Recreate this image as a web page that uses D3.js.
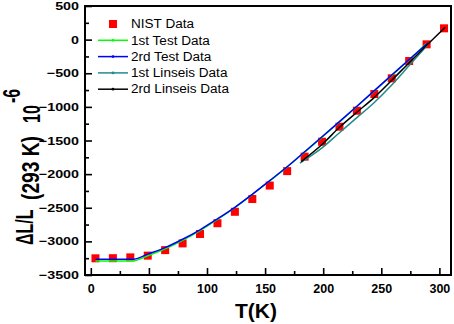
<!DOCTYPE html>
<html>
<head>
<meta charset="utf-8">
<script src="https://cdn.jsdelivr.net/npm/d3@7"></script>
<style>
  body { margin: 0; background: #fff; }
  svg { display: block; }
  text { font-family: Arial, "Liberation Sans", sans-serif; font-weight: bold; }
</style>
</head>
<body>
<svg id="chart"></svg>
<script>
let w = 454;
let h = 324;

// NIST reference points
let nistT = [4, 19, 34, 49, 64, 79, 94, 109, 124, 139, 154, 169, 184, 199, 214, 229, 244, 259, 274, 289, 304];
let nistV = [-3252, -3250, -3238, -3212, -3130, -3030, -2890, -2730, -2560, -2370, -2170, -1955, -1740, -1518, -1295, -1057, -809, -575, -318, -70, 168];

// test runs
let test1T = [4, 20, 37, 49, 64, 79, 94, 109, 124, 139, 154, 169, 184, 199, 214, 229, 244, 259, 274, 289];
let test1V = [-3290, -3290, -3287, -3214, -3110, -2984, -2840, -2673, -2498, -2303, -2100, -1893, -1672, -1449, -1224, -994, -763, -531, -299, -56];
let test2T = [4, 20, 37, 49, 64, 79, 94, 109, 124, 139, 154, 169, 184, 199, 214, 229, 244, 259, 274, 290];
let test2V = [-3267, -3267, -3264, -3190, -3093, -2969, -2828, -2665, -2493, -2300, -2097, -1890, -1668, -1445, -1220, -990, -759, -527, -295, -50];

// Linseis runs
let lin1T = [180, 199, 214, 229, 244, 259, 274, 290];
let lin1V = [-1835, -1610, -1385, -1160, -935, -675, -385, -75];
let lin2T = [181, 199, 214, 229, 244, 259, 274, 289, 305];
let lin2V = [-1815, -1560, -1304, -1080, -858, -605, -343, -85, 183];

let xTicks = [0, 50, 100, 150, 200, 250, 300];
let yTicks = [-3500, -3000, -2500, -2000, -1500, -1000, -500, 0, 500];

let seriesNames = ["NIST Data", "1st Test Data", "2rd Test Data", "1st Linseis Data", "2rd Linseis Data"];
let colors = ["#ff0000", "#00ff00", "#0000ff", "#238b8b", "#000000"];

let zip = (ts, vs) => ts.map((t, i) => ({t: t, v: vs[i]}));

let mLeft = 85, mRight = 451, mTop = 6, mBottom = 275;

let svg = d3.select("#chart")
    .attr("width", w)
    .attr("height", h);

let xScale = d3.scaleLinear().domain([-5, 310]).range([mLeft, mRight]);
let yScale = d3.scaleLinear().domain([-3500, 500]).range([mBottom, mTop]);

// points
svg.append("g")
    .selectAll("rect")
    .data(zip(nistT, nistV))
    .join("rect")
    .attr("x", d => xScale(d.t) - 4)
    .attr("y", d => yScale(d.v) - 4)
    .attr("width", 8)
    .attr("height", 8)
    .attr("fill", colors[0]);

let line = d3.line()
    .x(d => xScale(d.t))
    .y(d => yScale(d.v))
    .curve(d3.curveMonotoneX);

let lines = [zip(test1T, test1V), zip(test2T, test2V), zip(lin1T, lin1V), zip(lin2T, lin2V)];
svg.append("g")
    .selectAll("path")
    .data(lines)
    .join("path")
    .attr("fill", "none")
    .attr("stroke", (d, i) => colors[i + 1])
    .attr("stroke-width", 1.5)
    .attr("d", line);

// axes, ticks pointing inward
let xAxis = d3.axisBottom(xScale).tickValues(xTicks).tickSize(-7).tickSizeOuter(0).tickPadding(9);
let xMinor = d3.axisBottom(xScale).tickValues(d3.range(25, 310, 50)).tickSize(-4).tickSizeOuter(0).tickFormat("");
let yAxis = d3.axisLeft(yScale).tickValues(yTicks).tickSize(-7).tickSizeOuter(0).tickPadding(6).tickFormat(d3.format("d"));
let yMinor = d3.axisLeft(yScale).tickValues(d3.range(-3250, 500, 500)).tickSize(-4).tickSizeOuter(0).tickFormat("");

let gx = svg.append("g").attr("transform", `translate(0, ${mBottom})`).call(xAxis);
svg.append("g").attr("transform", `translate(0, ${mBottom})`).call(xMinor);
let gy = svg.append("g").attr("transform", `translate(${mLeft}, 0)`).call(yAxis);
svg.append("g").attr("transform", `translate(${mLeft}, 0)`).call(yMinor);

svg.selectAll(".domain").remove();
svg.selectAll(".tick line").attr("stroke", "#000").attr("stroke-width", 1.6);

gx.selectAll("text")
    .attr("font-size", 12.5)
    .attr("fill", "#000")
    .style("font-family", "Arial, 'Liberation Sans', sans-serif");

gy.selectAll("text")
    .attr("font-size", 11)
    .attr("fill", "#000")
    .attr("x", -6 / 1.3)
    .attr("transform", "scale(1.3,1)")
    .style("font-family", "Arial, 'Liberation Sans', sans-serif");

// frame
svg.append("rect")
    .attr("x", mLeft)
    .attr("y", mTop)
    .attr("width", mRight - mLeft)
    .attr("height", mBottom - mTop)
    .attr("fill", "none")
    .attr("stroke", "#000")
    .attr("stroke-width", 2);

// axis titles
svg.append("text")
    .attr("x", (mLeft + mRight) / 2 - 12)
    .attr("y", 318)
    .attr("text-anchor", "middle")
    .attr("font-size", 21)
    .text("T(K)");

let yTitle = svg.append("g")
    .attr("transform", "translate(33, 245) rotate(-90) scale(1, 1.48)")
    .attr("font-size", 16);
yTitle.append("text").attr("x", 0).attr("y", 0).text("ΔL/L");
yTitle.append("text").attr("x", 45).attr("y", 4.3)
    .attr("textLength", 64).attr("lengthAdjust", "spacingAndGlyphs").text("(293 K)");
yTitle.append("text").attr("x", 122).attr("y", 5).text("10");
yTitle.append("text").attr("x", 142).attr("y", -8.7).text("-6");

// legend
let legend = svg.append("g")
    .attr("font-size", 12)
    .selectAll("g")
    .data(seriesNames)
    .join("g")
    .attr("transform", (d, i) => `translate(0, ${24 + i * 16.3})`);

legend.filter((d, i) => i === 0).append("rect")
    .attr("x", 109)
    .attr("y", -4)
    .attr("width", 8)
    .attr("height", 8)
    .attr("fill", colors[0]);

legend.filter((d, i) => i > 0).append("line")
    .attr("x1", 98)
    .attr("x2", 128)
    .attr("stroke", d => colors[seriesNames.indexOf(d)])
    .attr("stroke-width", 1.5);

legend.filter((d, i) => i > 0).append("circle")
    .attr("cx", 113)
    .attr("r", 1.4)
    .attr("fill", d => colors[seriesNames.indexOf(d)]);

legend.append("text")
    .attr("x", 131 / 1.13)
    .attr("dy", "0.35em")
    .attr("transform", "scale(1.13,1)")
    .style("font-weight", "normal")
    .text(d => d);
</script>
</body>
</html>
